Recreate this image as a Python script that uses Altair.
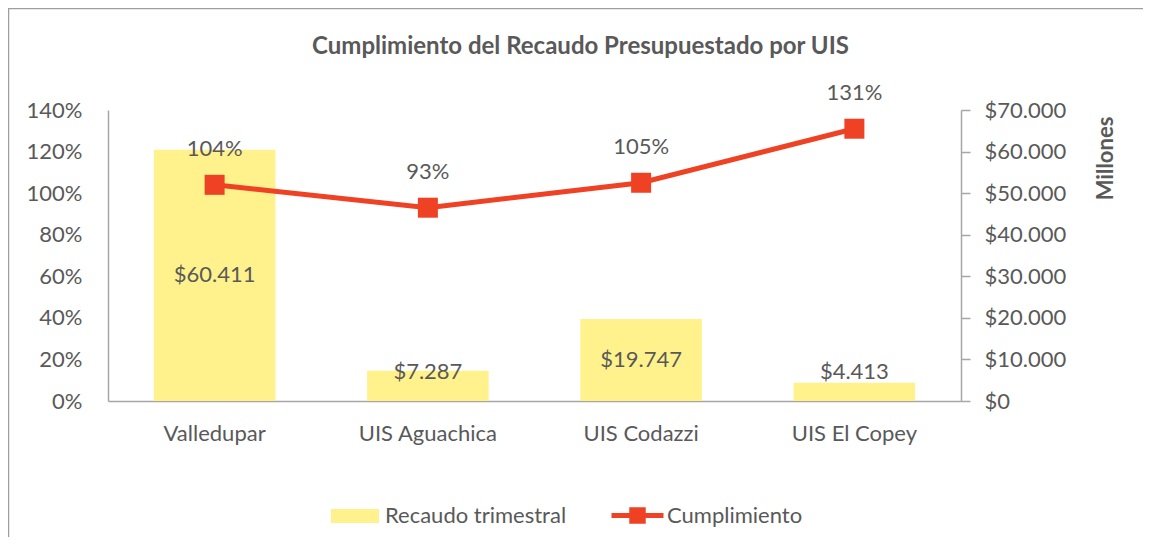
import altair as alt
import pandas as pd

# ---- data ----
categorias = ["Valledupar", "UIS Aguachica", "UIS Codazzi", "UIS El Copey"]
recaudo = [60411, 7287, 19747, 4413]          # millones de pesos
cumplimiento = [1.04, 0.93, 1.05, 1.31]
pct_ticks = [0, 0.2, 0.4, 0.6, 0.8, 1.0, 1.2, 1.4]
money_ticks = [0, 10000, 20000, 30000, 40000, 50000, 60000, 70000]
serie_barras = "Recaudo trimestral"
serie_linea = "Cumplimiento"
titulo = "Cumplimiento del Recaudo Presupuestado por UIS"

df = pd.DataFrame({"UIS": categorias, "Recaudo": recaudo, "Cumplimiento": cumplimiento})

YELLOW = "#FFF28C"
RED = "#EF4123"
TEXT = "#595959"
AXIS = "#A6A6A6"
FONT = "Lato"
FS = 22

base = alt.Chart(df).transform_calculate(
    s1=f"'{serie_barras}'",
    s2=f"'{serie_linea}'",
    lab_rec="replace(format(datum.Recaudo, '$,'), ',', '.')",
    lab_pct="format(datum.Cumplimiento, '.0%')",
    pos_rec="max(datum.Recaudo / 2, 6900)",
)

x = alt.X(
    "UIS:N", sort=categorias, title=None,
    scale=alt.Scale(paddingInner=0.43, paddingOuter=0.215),
    axis=alt.Axis(labelAngle=0, ticks=False, domainColor=AXIS, domainWidth=1.5,
                  labelPadding=22, labelFontSize=FS, labelColor=TEXT, labelFont=FONT),
)

money_scale = alt.Scale(domain=[0, 70000], nice=False, zero=True)
pct_scale = alt.Scale(domain=[0, 1.4], nice=False, zero=True)

bars = base.mark_bar(opacity=1).encode(
    x=x,
    y=alt.Y("Recaudo:Q", scale=money_scale,
            axis=alt.Axis(orient="right", values=money_ticks,
                          labelExpr="replace(format(datum.value, '$,'), ',', '.')",
                          title="Millones", titleFont=FONT, titleFontSize=FS,
                          titleFontWeight="bold", titleColor=TEXT, titleAngle=270,
                          titleX=144, titleY=48, titleAlign="center", titleBaseline="middle",
                          labelFont=FONT, labelFontSize=FS, labelColor=TEXT,
                          tickSize=9, tickColor=AXIS, tickWidth=1.5,
                          domainColor=AXIS, domainWidth=1.5, labelPadding=14, grid=False)),
    fill=alt.Fill("s1:N", scale=alt.Scale(domain=[serie_barras], range=[YELLOW]),
                  legend=alt.Legend(title=None, orient="none", legendX=223, legendY=382,
                                    symbolType="M-1,-0.29H1V0.29H-1Z", symbolSize=2304,
                                    symbolStrokeWidth=0, labelFont=FONT, labelFontSize=FS,
                                    labelColor=TEXT, labelOffset=6, labelLimit=400, padding=0)),
)

bar_labels = base.mark_text(font=FONT, fontSize=FS, color=TEXT, baseline="middle").encode(
    x=x,
    y=alt.Y("pos_rec:Q", scale=money_scale, axis=None),
    text="lab_rec:N",
)

line = base.mark_line(strokeWidth=5).encode(
    x=x,
    y=alt.Y("Cumplimiento:Q", scale=pct_scale,
            axis=alt.Axis(orient="left", values=pct_ticks, format=".0%", title=None,
                          ticks=False, tickSize=0, domainColor=AXIS, domainWidth=1.5,
                          labelPadding=26, labelFont=FONT, labelFontSize=FS,
                          labelColor=TEXT, grid=False)),
    stroke=alt.Stroke("s2:N", scale=alt.Scale(domain=[serie_linea], range=[RED]),
                      legend=alt.Legend(title=None, orient="none", legendX=501, legendY=377,
                                        symbolType="M-1,0H1M-0.22,-0.22H0.22V0.22H-0.22Z",
                                        symbolSize=2704, symbolStrokeWidth=5,
                                        symbolFillColor=RED, labelFont=FONT, labelFontSize=FS,
                                        labelColor=TEXT, labelOffset=1, labelLimit=400,
                                        padding=0)),
)

points = base.mark_square(size=400, color=RED, opacity=1, filled=True).encode(
    x=x,
    y=alt.Y("Cumplimiento:Q", scale=pct_scale, axis=None),
)

line_labels = base.mark_text(font=FONT, fontSize=FS, color=TEXT, baseline="middle", dy=-36).encode(
    x=x,
    y=alt.Y("Cumplimiento:Q", scale=pct_scale, axis=None),
    text="lab_pct:N",
)

frame_df = pd.DataFrame({"k": [0]})
border_top = alt.Chart(frame_df).mark_rule(color="#9E9E9E", strokeWidth=1.5).encode(
    x=alt.value(-100), x2=alt.value(1040), y=alt.value(-101.5))
border_left = alt.Chart(frame_df).mark_rule(color="#9E9E9E", strokeWidth=1.5).encode(
    x=alt.value(-99.5), y=alt.value(-102), y2=alt.value(430))

chart = alt.layer(
    bars, bar_labels, line, points, line_labels, border_top, border_left
).resolve_scale(
    y="independent", fill="independent", stroke="independent"
).properties(
    width=853, height=291,
    autosize=alt.AutoSizeParams(type="none"),
    padding={"left": 100, "top": 102, "right": 182, "bottom": 136},
    title=alt.Title(titulo, font=FONT, fontSize=24, fontWeight="bold", color=TEXT,
                    anchor="middle", dx=46, offset=-52),
).configure_view(stroke=None)

chart.save("out.html", embed_options={"renderer": "svg", "actions": False})
